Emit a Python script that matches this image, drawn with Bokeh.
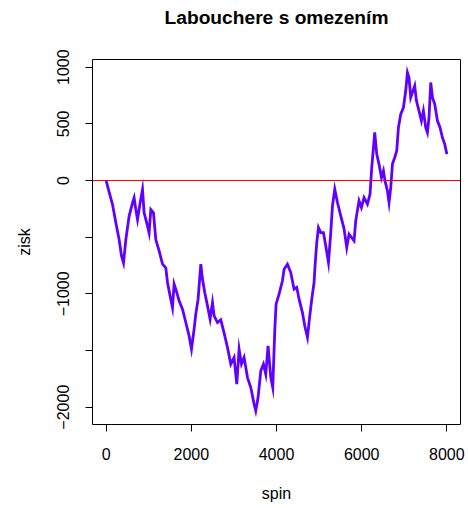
from bokeh.plotting import figure
from bokeh.models import FixedTicker, Range1d, Span, Title
from bokeh.embed import file_html
from bokeh.resources import INLINE

# values (spin, zisk)
spin = [0, 63, 150, 228, 305, 361, 408, 462, 540, 620, 657, 697, 737, 798, 854, 892,
        972, 1009, 1049, 1112, 1166, 1244, 1324, 1401, 1441, 1502, 1558, 1596, 1659,
        1713, 1793, 1871, 1948, 2004, 2065, 2105, 2159, 2223, 2262, 2316, 2380, 2441,
        2497, 2535, 2615, 2692, 2769, 2849, 2927, 3004, 3067, 3122, 3178, 3239, 3319,
        3396, 3474, 3513, 3567, 3631, 3694, 3748, 3802, 3866, 3912, 3959, 3990, 4060,
        4140, 4178, 4257, 4335, 4412, 4476, 4530, 4609, 4663, 4727, 4781, 4828, 4882,
        4905, 4945, 4985, 5039, 5102, 5156, 5220, 5274, 5314, 5368, 5431, 5509, 5586,
        5649, 5703, 5821, 5860, 5938, 5994, 6055, 6135, 6196, 6236, 6276, 6306, 6353,
        6407, 6464, 6511, 6548, 6604, 6642, 6682, 6722, 6776, 6823, 6863, 6917, 6980,
        7034, 7074, 7111, 7151, 7205, 7245, 7285, 7346, 7402, 7449, 7503, 7543, 7581,
        7621, 7661, 7715, 7778, 7839, 7895, 7949, 8000]
zisk = [0, -91, -212, -373, -521, -665, -726, -524, -314, -197, -153, -256, -344, -197,
        -79, -285, -402, -461, -256, -285, -521, -620, -738, -771, -900, -1018, -1121,
        -914, -988, -1062, -1135, -1253, -1371, -1488, -1312, -1179, -1047, -738, -870,
        -988, -1106, -1223, -1077, -1194, -1253, -1229, -1344, -1474, -1620, -1562,
        -1797, -1488, -1620, -1562, -1739, -1827, -1973, -2032, -1915, -1680, -1620,
        -1709, -1459, -1739, -1827, -1327, -1091, -1003, -885, -782, -738, -812, -958,
        -944, -1047, -1165, -1282, -1385, -1194, -1047, -900, -753, -547, -415, -459,
        -459, -576, -724, -459, -223, -76, -194, -312, -426, -591, -473, -532, -356,
        -179, -238, -150, -208, -120, 115, 291, 424, 233, 145, 26, 86, -3, -91, -194,
        -62, 145, 203, 262, 468, 586, 644, 792, 953, 909, 733, 792, 836, 703, 615, 527,
        615, 468, 424, 556, 865, 733, 674, 527, 468, 380, 321, 233]

title_text = "Labouchere s omezením"
x_ticks = [0, 2000, 4000, 6000, 8000]
y_ticks = [-2000, -1500, -1000, -500, 0, 500, 1000]
y_tick_labels = {-2000: "\u22122000", -1500: "", -1000: "\u22121000", -500: "",
                 0: "0", 500: "500", 1000: "1000"}

FONT = "Liberation Sans"

p = figure(width=468, height=508, output_backend="svg", toolbar_location=None,
           x_range=Range1d(-320, 8320), y_range=Range1d(-2153, 1068),
           min_border_left=92, min_border_right=8, min_border_top=59,
           min_border_bottom=84)

# spacer panel nearest the frame, then the real title above it
p.add_layout(Title(text=" ", text_font_size="2px", standoff=28), "above")
p.add_layout(Title(text=title_text, text_font=FONT, text_font_size="19.2px",
                   text_font_style="bold", text_color="black", align="center",
                   standoff=0), "above")

p.background_fill_color = "white"
p.border_fill_color = "white"
p.outline_line_color = "black"
p.outline_line_width = 1
p.xgrid.visible = False
p.ygrid.visible = False

p.xaxis.ticker = FixedTicker(ticks=x_ticks)
p.yaxis.ticker = FixedTicker(ticks=y_ticks)
p.yaxis.major_label_overrides = y_tick_labels
p.yaxis.major_label_orientation = "vertical"

for ax in (p.xaxis[0], p.yaxis[0]):
    ax.axis_line_color = None
    ax.minor_tick_line_color = None
    ax.major_tick_in = 0
    ax.major_tick_out = 7
    ax.major_tick_line_color = "black"
    ax.major_label_text_font = FONT
    ax.major_label_text_font_size = "16px"
    ax.major_label_text_color = "black"
    ax.major_label_standoff = 16
    ax.axis_label_text_font = FONT
    ax.axis_label_text_font_size = "16px"
    ax.axis_label_text_font_style = "normal"
    ax.axis_label_text_color = "black"
    ax.axis_label_standoff = 22

p.xaxis.axis_label = "spin"
p.yaxis.axis_label = "zisk"

p.line(spin, zisk, line_color="#6000FF", line_width=2.8, line_join="miter")
p.add_layout(Span(location=0, dimension="width", line_color="#FF0000", line_width=1.2))

open("out.html", "w").write(file_html(p, INLINE))
